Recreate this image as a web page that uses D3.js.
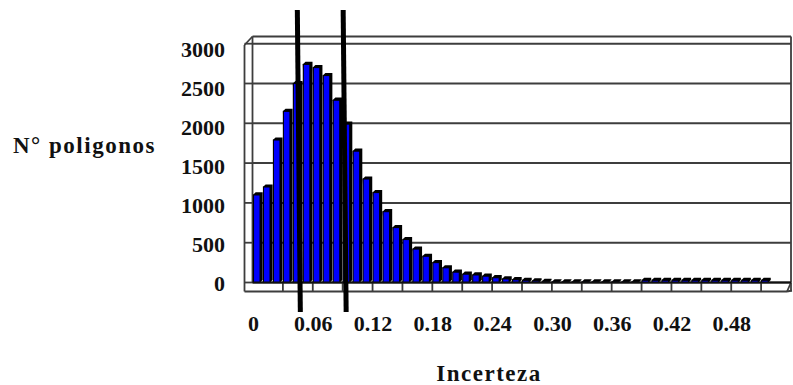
<!DOCTYPE html>
<html>
<head>
<meta charset="utf-8">
<script src="https://cdn.jsdelivr.net/npm/d3@7"></script>
<style>
  html, body { margin: 0; padding: 0; background: #fff; }
  svg { display: block; }
  text { font-family: "Liberation Serif", "Times New Roman", serif; font-weight: bold; fill: #111; }
</style>
</head>
<body>
<svg id="chart" width="793" height="385"></svg>
<script>
// Histogram of polygon uncertainty, bins of width 0.01 starting at 0
const binStarts = d3.range(0, 52).map(i => +(i * 0.01).toFixed(2));
const counts = [
  1100, 1200, 1790, 2150, 2500, 2740, 2700, 2600, 2290, 1990,
  1650, 1300, 1130,  890,  690,  540,  420,  330,  250,  185,
   130,  105,   95,   80,   60,   45,   35,   28,   20,   15,
     8,    8,    8,    8,    8,    8,    8,    8,    8,   28,
    28,   28,   28,   28,   28,   28,   28,   28,   28,   28,
    28,   28
];
const binWidth = 0.01;
const xDomainMax = 0.54;

const yTickValues = [0, 500, 1000, 1500, 2000, 2500, 3000];
const xTickValues = [0, 0.06, 0.12, 0.18, 0.24, 0.30, 0.36, 0.42, 0.48];
const xTickLabels = ["0", "0.06", "0.12", "0.18", "0.24", "0.30", "0.36", "0.42", "0.48"];
const floorTickValues = d3.range(0, 19).map(i => +(i * 0.03).toFixed(2));

// Two reference lines drawn across the histogram
const markerValues = [0.046, 0.092];

const yTitle = "N° poligonos";
const xTitle = "Incerteza";

const svg = d3.select("#chart");

const x = d3.scaleLinear().domain([0, xDomainMax]).range([253, 791]);
const y = d3.scaleLinear().domain([0, 3000]).range([282.5, 43.7]);
const yLabel = d3.scaleLinear().domain([0, 3000]).range([283, 49]);

const depth = 9;        // wall / floor depth offset
const barDepth = 2.6;   // 3-D thickness of each column
const wallColor = "#3d3d3d";

const x0 = x(0), x1 = x(xDomainMax), yb = y(0), yt = y(3000);
const frontX = x0 - depth + 0.5;

// Back wall gridlines
svg.append("g")
  .selectAll("line")
  .data(yTickValues)
  .join("line")
  .attr("x1", x0).attr("x2", x1)
  .attr("y1", d => y(d)).attr("y2", d => y(d))
  .attr("stroke", wallColor).attr("stroke-width", 2);

// Walls outline
const frame = svg.append("g").attr("fill", "none").attr("stroke", wallColor).attr("stroke-width", 1.8);
frame.append("line").attr("x1", x0 - 0.5).attr("x2", x1).attr("y1", yt - 7.2).attr("y2", yt - 7.2);
frame.append("line").attr("x1", x1).attr("x2", x1).attr("y1", yt - 7.2).attr("y2", yb);
frame.append("line").attr("x1", x0 - 0.5).attr("x2", x0 - 0.5).attr("y1", yt - 7.2).attr("y2", yb);
frame.append("line").attr("x1", frontX).attr("x2", frontX).attr("y1", yt + 1.3).attr("y2", yb + depth);
frame.append("line").attr("x1", frontX).attr("x2", x0 - 0.5).attr("y1", yt + 1.3).attr("y2", yt - 7.2);

// Side-wall ticks at each gridline
svg.append("g")
  .selectAll("line")
  .data(yTickValues)
  .join("line")
  .attr("x1", frontX).attr("x2", x0)
  .attr("y1", d => y(d)).attr("y2", d => y(d))
  .attr("stroke", wallColor).attr("stroke-width", 1.8);

// Floor
const floor = svg.append("g").attr("stroke", wallColor).attr("stroke-width", 1.8).attr("fill", "none");
floor.append("line").attr("x1", frontX).attr("x2", x1 - 4).attr("y1", yb + depth).attr("y2", yb + depth);
floor.append("line").attr("x1", x1).attr("x2", x1 - 4).attr("y1", yb).attr("y2", yb + depth);
floor.append("line").attr("x1", x1 - 4).attr("x2", x1 + 1).attr("y1", yb + depth).attr("y2", yb + depth - 1);
floor.selectAll("line.sep")
  .data(floorTickValues.slice(1))
  .join("line")
  .attr("class", "sep")
  .attr("x1", d => x(d)).attr("x2", d => x(d))
  .attr("y1", yb).attr("y2", yb + depth);

// Columns: dark depth faces, then blue fronts
const bars = svg.append("g");
const data = binStarts.map((b, i) => ({ b, v: counts[i] }));

bars.selectAll("path.side")
  .data(data)
  .join("path")
  .attr("class", "side")
  .attr("fill", "#000")
  .attr("d", d => {
    const l = x(d.b), r = x(d.b + binWidth) - barDepth - 0.3, t = y(d.v), bt = yb;
    return `M${l},${t}L${l + barDepth},${t - barDepth}L${r + barDepth},${t - barDepth}` +
           `L${r + barDepth},${bt - barDepth}L${r},${bt}Z`;
  });

bars.selectAll("rect.front")
  .data(data)
  .join("rect")
  .attr("class", "front")
  .attr("x", d => x(d.b) + 0.5)
  .attr("width", d => x(d.b + binWidth) - x(d.b) - barDepth - 0.8)
  .attr("y", d => y(d.v))
  .attr("height", d => yb - y(d.v))
  .attr("fill", "#0000ff")
  .attr("stroke", "#000")
  .attr("stroke-width", 1.1);

// Floor back edge over column bases
svg.append("line")
  .attr("x1", x0 - 0.5).attr("x2", x1)
  .attr("y1", yb).attr("y2", yb)
  .attr("stroke", "#111").attr("stroke-width", 2);

// Value axis labels
const yAxis = svg.append("g")
  .attr("transform", "translate(225,0)")
  .call(d3.axisLeft(yLabel).tickValues(yTickValues).tickSize(0).tickPadding(0).tickFormat(d3.format("d")));
yAxis.select(".domain").remove();
yAxis.selectAll("text")
  .attr("font-family", "Liberation Serif, serif")
  .attr("font-weight", "bold")
  .attr("font-size", 22)
  .attr("fill", "#111")
  .attr("dy", "0.34em");

// Category axis labels
const xAxis = svg.append("g")
  .attr("transform", "translate(0,312)")
  .call(d3.axisBottom(x).tickValues(xTickValues).tickSize(0).tickPadding(3)
    .tickFormat((d, i) => xTickLabels[i]));
xAxis.select(".domain").remove();
xAxis.selectAll("text")
  .attr("font-family", "Liberation Serif, serif")
  .attr("font-weight", "bold")
  .attr("font-size", 22)
  .attr("fill", "#111");

// Reference lines
svg.append("g")
  .selectAll("line")
  .data(markerValues)
  .join("line")
  .attr("x1", d => x(d) - 1.5).attr("x2", d => x(d) + 1.5)
  .attr("y1", 10).attr("y2", 312)
  .attr("stroke", "#000").attr("stroke-width", 5);

// Axis titles
svg.append("text")
  .attr("x", 13).attr("y", 153)
  .attr("font-size", 23)
  .attr("letter-spacing", 1.5)
  .text(yTitle);

svg.append("text")
  .attr("x", 489).attr("y", 381)
  .attr("text-anchor", "middle")
  .attr("font-size", 23)
  .attr("letter-spacing", 1.5)
  .text(xTitle);
</script>
</body>
</html>
